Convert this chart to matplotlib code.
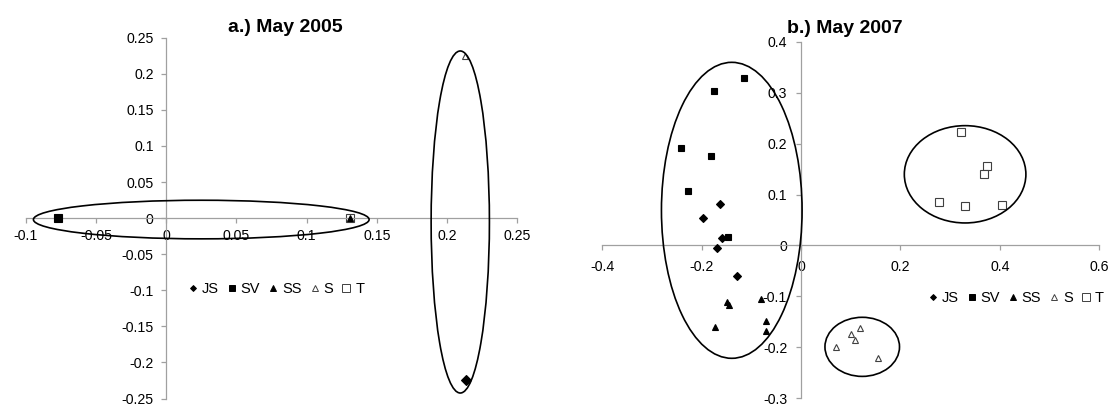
import matplotlib
matplotlib.use("Agg")
import matplotlib.pyplot as plt
from matplotlib.patches import Ellipse
from matplotlib.lines import Line2D

plt.rcParams['font.family'] = ['Liberation Sans', 'DejaVu Sans']

# ---------------- data: panel a (May 2005) ----------------
a_JS_x = [0.2134]
a_JS_y = [-0.2238]
a_SV_x = [-0.0767]
a_SV_y = [0.0]
a_SS_x = [0.131]
a_SS_y = [0.0]
a_S_x = [0.2129]
a_S_y = [0.2246]
a_T_x = [0.131]
a_T_y = [0.0]
# ellipses: (center x, center y, width, height)
a_ellipses = [(0.025, -0.002, 0.239, 0.0535), (0.2094, -0.0054, 0.0415, 0.474)]
a_xticks = [-0.1, -0.05, 0, 0.05, 0.1, 0.15, 0.2, 0.25]
a_xticklabels = ['-0.1', '-0.05', '0', '0.05', '0.1', '0.15', '0.2', '0.25']
a_yticks = [-0.25, -0.2, -0.15, -0.1, -0.05, 0, 0.05, 0.1, 0.15, 0.2, 0.25]
a_yticklabels = ['-0.25', '-0.2', '-0.15', '-0.1', '-0.05', '0', '0.05', '0.1', '0.15', '0.2', '0.25']

# ---------------- data: panel b (May 2007) ----------------
b_JS_x = [-0.164, -0.1978, -0.1596, -0.1696, -0.1287]
b_JS_y = [0.0808, 0.054, 0.015, -0.0045, -0.059]
b_SV_x = [-0.1146, -0.175, -0.2426, -0.1817, -0.228, -0.148]
b_SV_y = [0.328, 0.3035, 0.191, 0.1765, 0.1075, 0.017]
b_SS_x = [-0.150, -0.1455, -0.0804, -0.1736, -0.0711, -0.0711]
b_SS_y = [-0.111, -0.117, -0.1055, -0.1607, -0.148, -0.168]
b_S_x = [0.0703, 0.101, 0.1186, 0.109, 0.1554]
b_S_y = [-0.1998, -0.174, -0.162, -0.186, -0.221]
b_T_x = [0.3222, 0.3739, 0.369, 0.2774, 0.3296, 0.404]
b_T_y = [0.222, 0.1557, 0.140, 0.086, 0.077, 0.080]
b_ellipses = [(-0.1395, 0.069, 0.283, 0.581), (0.330, 0.1397, 0.2446, 0.191),
              (0.123, -0.199, 0.150, 0.116)]
b_xticks = [-0.4, -0.2, 0, 0.2, 0.4, 0.6]
b_xticklabels = ['-0.4', '-0.2', '0', '0.2', '0.4', '0.6']
b_yticks = [-0.3, -0.2, -0.1, 0, 0.1, 0.2, 0.3, 0.4]
b_yticklabels = ['-0.3', '-0.2', '-0.1', '0', '0.1', '0.2', '0.3', '0.4']

series_names = ['JS', 'SV', 'SS', 'S', 'T']

W, H = 1113, 405
fig = plt.figure(figsize=(W / 100, H / 100), dpi=100)

def px_rect(l, t, r, b):
    return [l / W, (H - b) / H, (r - l) / W, (b - t) / H]

axis_grey = '#a0a0a0'
open_edge = '#404040'

styles = {
    'JS': dict(marker='D', color='black', mec='black', z=3),
    'SV': dict(marker='s', color='black', mec='black', z=3),
    'SS': dict(marker='^', color='black', mec='black', z=3),
    'S': dict(marker='^', color='white', mec=open_edge, z=2),
    'T': dict(marker='s', color='white', mec=open_edge, z=2),
}

def setup(ax, xlim, ylim, xt, xtl, yt, ytl, xpad, ypad):
    ax.set_xlim(*xlim)
    ax.set_ylim(*ylim)
    for s in ['top', 'right']:
        ax.spines[s].set_visible(False)
    for s in ['left', 'bottom']:
        ax.spines[s].set_position('zero')
        ax.spines[s].set_color(axis_grey)
        ax.spines[s].set_linewidth(0.9)
    ax.set_xticks(xt)
    ax.set_xticklabels(xtl)
    ax.set_yticks(yt)
    ax.set_yticklabels(ytl)
    ax.tick_params(axis='x', direction='out', length=3.5, width=0.9, color=axis_grey,
                   labelsize=10.2, pad=xpad, labelcolor='black')
    ax.tick_params(axis='y', direction='out', length=3.5, width=0.9, color=axis_grey,
                   labelsize=10.2, pad=ypad, labelcolor='black')
    ax.patch.set_visible(False)

def draw(ax, data, sizes, ellipses):
    for name in series_names:
        xs, ys = data[name]
        st = styles[name]
        ax.plot(xs, ys, linestyle='none', marker=st['marker'], mfc=st['color'],
                mec=st['mec'], mew=0.8, ms=sizes[name], clip_on=False, zorder=st['z'])
    for (cx, cy, w, h) in ellipses:
        ax.add_patch(Ellipse((cx, cy), w, h, fill=False, ec='black', lw=1.2,
                             clip_on=False, zorder=4))

def legend(ax, anchor):
    handles = []
    lsz = {'JS': 3.0, 'SV': 4.0, 'SS': 4.2, 'S': 4.4, 'T': 5.2}
    for name in series_names:
        st = styles[name]
        handles.append(Line2D([], [], linestyle='none', marker=st['marker'], mfc=st['color'],
                              mec=st['mec'], mew=0.7, ms=lsz[name]))
    fig.legend(handles, series_names, loc='center', bbox_to_anchor=anchor,
               bbox_transform=fig.transFigure, ncol=5, frameon=False, fontsize=10.5,
               handlelength=0.6, handletextpad=0.3, columnspacing=0.6,
               borderpad=0, borderaxespad=0)

# ---- panel a ----
axa = fig.add_axes(px_rect(25.7, 37.7, 517.3, 398.5))
setup(axa, (-0.1, 0.25), (-0.25, 0.25), a_xticks, a_xticklabels, a_yticks, a_yticklabels,
      xpad=4, ypad=5.5)
draw(axa, {'JS': (a_JS_x, a_JS_y), 'SV': (a_SV_x, a_SV_y), 'SS': (a_SS_x, a_SS_y),
           'S': (a_S_x, a_S_y), 'T': (a_T_x, a_T_y)},
     {'JS': 4.6, 'SV': 5.2, 'SS': 4.6, 'S': 5.0, 'T': 5.6}, a_ellipses)
fig.text(285 / W, (H - 31.7) / H, 'a.) May 2005', ha='center', va='baseline',
         fontsize=14, fontweight='bold')
legend(axa, ((192 + 361) / 2 / W, (H - 289) / H))

# ---- panel b ----
axb = fig.add_axes(px_rect(602.3, 41.7, 1099.3, 398.3))
setup(axb, (-0.4, 0.6), (-0.3, 0.4), b_xticks, b_xticklabels, b_yticks, b_yticklabels,
      xpad=7, ypad=6.5)
draw(axb, {'JS': (b_JS_x, b_JS_y), 'SV': (b_SV_x, b_SV_y), 'SS': (b_SS_x, b_SS_y),
           'S': (b_S_x, b_S_y), 'T': (b_T_x, b_T_y)},
     {'JS': 4.5, 'SV': 4.2, 'SS': 4.4, 'S': 4.8, 'T': 5.8}, b_ellipses)
fig.text(845 / W, (H - 33) / H, 'b.) May 2007', ha='center', va='baseline',
         fontsize=14, fontweight='bold')
legend(axb, ((935 + 1097) / 2 / W, (H - 297.7) / H))

fig.savefig('out.png', dpi=100, facecolor='white')
